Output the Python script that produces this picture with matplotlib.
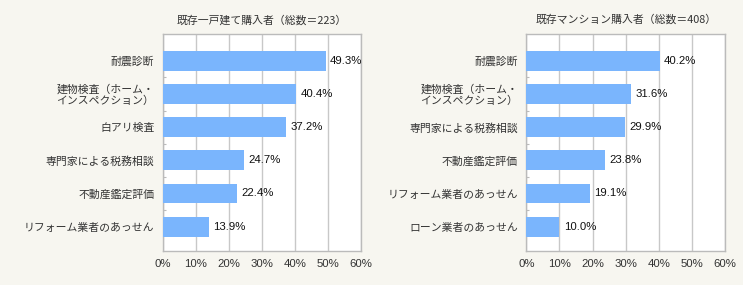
import matplotlib
matplotlib.use("Agg")
import matplotlib.pyplot as plt
import numpy as np

plt.rcParams['font.family'] = ['Noto Sans CJK JP', 'DejaVu Sans']

left_title = "既存一戸建て購入者（総数＝223）"
left_cats = ["耐震診断", "建物検査（ホーム・\nインスペクション）", "白アリ検査",
             "専門家による税務相談", "不動産鑑定評価", "リフォーム業者のあっせん"]
left_vals = [49.3, 40.4, 37.2, 24.7, 22.4, 13.9]

right_title = "既存マンション購入者（総数＝408）"
right_cats = ["耐震診断", "建物検査（ホーム・\nインスペクション）", "専門家による税務相談",
              "不動産鑑定評価", "リフォーム業者のあっせん", "ローン業者のあっせん"]
right_vals = [40.2, 31.6, 29.9, 23.8, 19.1, 10.0]

xticks = [0, 10, 20, 30, 40, 50, 60]

W, H = 743, 285
fig = plt.figure(figsize=(W / 100, H / 100), dpi=100)
fig.patch.set_facecolor('#f7f6f0')

bar_color = '#7ab5fd'
grid_color = '#c8c8c8'
text_color = '#333333'
num_font = ['Liberation Sans', 'DejaVu Sans']

def panel(x0, x1, title, cats, vals):
    top, bottom = 34.3, 250.7
    ax = fig.add_axes([x0 / W, 1 - bottom / H, (x1 - x0) / W, (bottom - top) / H])
    ax.set_facecolor('white')
    n = len(cats)
    y = np.arange(n)
    ax.barh(y, vals, height=0.6, color=bar_color, zorder=3)
    ax.set_xlim(0, 60)
    ax.set_ylim(n - 1 + 0.725, -0.80)
    ax.set_xticks(xticks)
    ax.set_xticklabels([f"{t}%" for t in xticks], fontsize=8.2, color=text_color, family=num_font)
    ax.set_yticks(y)
    ax.set_yticklabels(cats, fontsize=7.8, color=text_color, linespacing=1.1)
    ax.set_yticks(np.arange(n - 1) + 0.5, minor=True)
    ax.tick_params(axis='y', which='major', length=0, pad=6)
    ax.tick_params(axis='y', which='minor', length=2, color='#bbbbbb', width=0.8, direction='in')
    ax.tick_params(axis='x', length=0, pad=6)
    ax.grid(axis='x', color=grid_color, linewidth=1.0, zorder=1)
    for s in ax.spines.values():
        s.set_color('#bbbbbb')
        s.set_linewidth(1.0)
    for yi, v in zip(y, vals):
        ax.text(v + 1.3, yi, f"{v:.1f}%", va='center', ha='left', fontsize=8.2,
                color='#111111', family=num_font)
    ax.set_title(title, fontsize=7.8, color=text_color, pad=8)
    return ax

panel(162.7, 361.3, left_title, left_cats, left_vals)
panel(526.3, 725.3, right_title, right_cats, right_vals)

fig.savefig("out.png", dpi=100, facecolor=fig.get_facecolor())
